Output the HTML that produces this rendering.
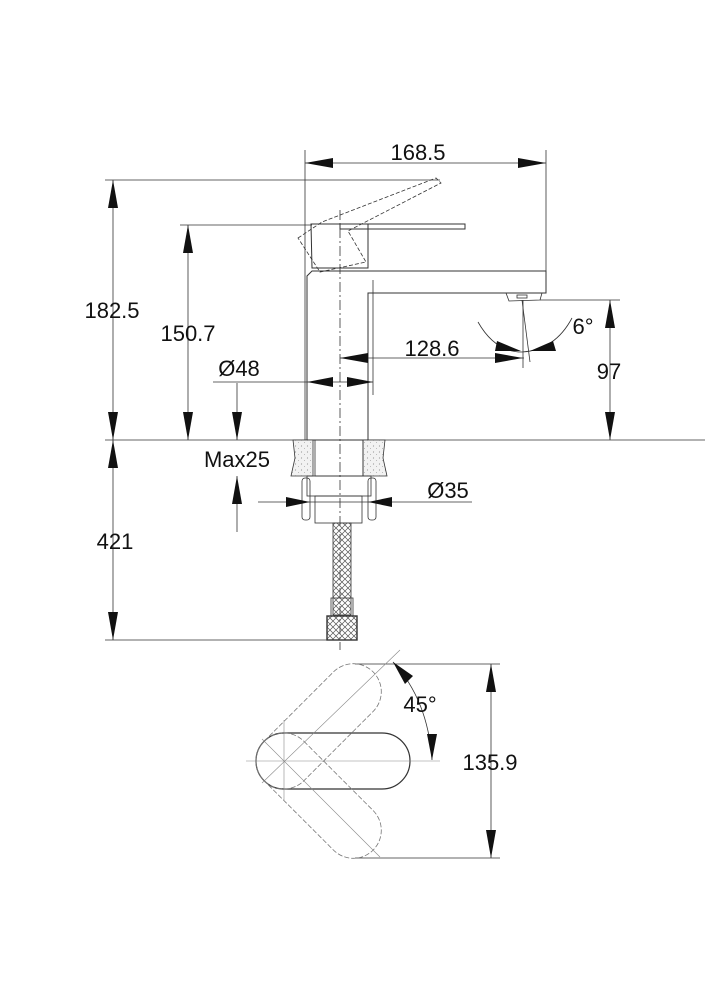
<!DOCTYPE html>
<html><head><meta charset="utf-8"><style>
html,body{margin:0;padding:0;background:#fff;}
svg{display:block;}
text{font-family:"Liberation Sans",sans-serif;font-size:22px;fill:#111;}
</style></head><body>
<svg width="707" height="1000" viewBox="0 0 707 1000" xmlns="http://www.w3.org/2000/svg">
<defs>
<pattern id="st" width="6" height="6" patternUnits="userSpaceOnUse"><rect width="6" height="6" fill="#f2f2f2"/><circle cx="1.5" cy="2" r="0.6" fill="#999"/><circle cx="4.5" cy="4.5" r="0.5" fill="#aaa"/></pattern>
<pattern id="br" width="6" height="6" patternUnits="userSpaceOnUse"><path d="M0 0L6 6M6 0L0 6" stroke="#555" stroke-width="0.7"/></pattern>
</defs>
<g stroke="#333" stroke-width="0.8" fill="none">
<line x1="305" y1="150" x2="305" y2="440"/>
<line x1="546" y1="150" x2="546" y2="272"/>
<line x1="105" y1="180" x2="440" y2="180"/>
<line x1="180" y1="225" x2="312" y2="225"/>
<line x1="105" y1="440" x2="705" y2="440"/>
<line x1="105" y1="640" x2="340" y2="640"/>
<line x1="540" y1="300" x2="620" y2="300"/>
<line x1="305" y1="163" x2="546" y2="163"/>
<line x1="113" y1="180" x2="113" y2="640"/>
<line x1="188" y1="225" x2="188" y2="440"/>
<line x1="610" y1="300" x2="610" y2="440"/>
<line x1="340" y1="358" x2="524" y2="358"/>
<line x1="213" y1="382" x2="373" y2="382"/>
<line x1="237" y1="383" x2="237" y2="440"/>
<line x1="237" y1="476" x2="237" y2="532"/>
<line x1="258" y1="502" x2="472" y2="502"/>
<line x1="355" y1="664" x2="500" y2="664"/>
<line x1="355" y1="858" x2="500" y2="858"/>
<line x1="491" y1="664" x2="491" y2="858"/>
<line x1="373" y1="280" x2="373" y2="395"/>
<line x1="523" y1="300" x2="523" y2="368"/>
<line x1="522" y1="300" x2="530" y2="362"/>
<path d="M478 322 Q495 352 522 352 Q555 350 572 318"/>
<path d="M312 271 L546 271 L546 293 L368 293 L368 440 L307 440 L307 276 Z" stroke-width="1"/>
<rect x="340" y="224" width="125" height="5" stroke-width="1"/>
<path d="M311 224 L368 224 L368 268 L312 268 Z" stroke-width="1"/>
<path d="M506 293 L542 293 L540 300 L509 301 Z"/>
<rect x="517" y="295" width="10" height="3"/>
<g stroke-dasharray="4,2">
<path d="M298 238 L322 222 L436 178 L441 183 L348 231 L366 262 L320 272 Z"/>
</g>
<line x1="340" y1="210" x2="340" y2="650" stroke-dasharray="10,3,2,3"/>
<path d="M293 440 L313 440 L313 476 L291 476 L295 458 Z" fill="url(#st)"/>
<path d="M363 440 L385 440 L383 458 L387 476 L363 476 Z" fill="url(#st)"/>
<rect x="315" y="440" width="48" height="36"/>
<rect x="307" y="476" width="64" height="20"/>
<rect x="315" y="496" width="47" height="27"/>
<rect x="302" y="478" width="8" height="42" rx="3"/>
<rect x="368" y="478" width="8" height="42" rx="3"/>
<rect x="333" y="523" width="18" height="92" fill="url(#br)"/>
<rect x="331" y="598" width="22" height="18"/>
<rect x="327" y="616" width="30" height="24" fill="url(#br)" stroke-width="1.4"/>
<rect x="256" y="733" width="154" height="56" rx="28" stroke-width="1.2"/>
<g stroke-dasharray="5,2" stroke="#777">
<rect x="256" y="733" width="154" height="56" rx="28" transform="rotate(-45 284 761)"/>
<rect x="256" y="733" width="154" height="56" rx="28" transform="rotate(45 284 761)"/>
</g>
<g stroke="#888" stroke-width="0.6">
<line x1="246" y1="761" x2="440" y2="761"/>
<line x1="284" y1="720" x2="284" y2="800"/>
<line x1="262" y1="783" x2="400" y2="650"/>
<line x1="262" y1="739" x2="380" y2="857"/>
</g>
<path d="M393 662 Q428 700 432 760"/>
</g>
<g fill="#111">
<path d="M305 163 L333 158 L333 168Z"/><path d="M546 163 L518 158 L518 168Z"/>
<path d="M113 180 L108 208 L118 208Z"/><path d="M113 440 L108 412 L118 412Z"/>
<path d="M113 440 L108 468 L118 468Z"/><path d="M113 640 L108 612 L118 612Z"/>
<path d="M188 225 L183 253 L193 253Z"/><path d="M188 440 L183 412 L193 412Z"/>
<path d="M610 300 L605 328 L615 328Z"/><path d="M610 440 L605 412 L615 412Z"/>
<path d="M340 358 L368 353 L368 363Z"/><path d="M523 358 L495 353 L495 363Z"/>
<path d="M307 382 L333 377 L333 387Z"/><path d="M373 382 L347 377 L347 387Z"/>
<path d="M237 440 L232 412 L242 412Z"/><path d="M237 476 L232 504 L242 504Z"/>
<path d="M310 502 L286 497 L286 507Z"/><path d="M368 502 L392 497 L392 507Z"/>
<path d="M521 351 L497 341 L495 351Z"/><path d="M530 351 L553 341 L556 351Z"/>
<path d="M491 664 L486 692 L496 692Z"/><path d="M491 858 L486 830 L496 830Z"/>
<path d="M393 662 L413 676 L405 684Z"/><path d="M432 760 L427 734 L437 734Z"/>
</g>
<text x="418" y="160" text-anchor="middle">168.5</text>
<text x="112" y="318" text-anchor="middle">182.5</text>
<text x="188" y="341" text-anchor="middle">150.7</text>
<text x="432" y="356" text-anchor="middle">128.6</text>
<text x="239" y="376" text-anchor="middle">Ø48</text>
<text x="583" y="334" text-anchor="middle">6°</text>
<text x="609" y="379" text-anchor="middle">97</text>
<text x="237" y="467" text-anchor="middle">Max25</text>
<text x="448" y="498" text-anchor="middle">Ø35</text>
<text x="115" y="549" text-anchor="middle">421</text>
<text x="420" y="712" text-anchor="middle">45°</text>
<text x="490" y="770" text-anchor="middle">135.9</text>
</svg>
</body></html>
